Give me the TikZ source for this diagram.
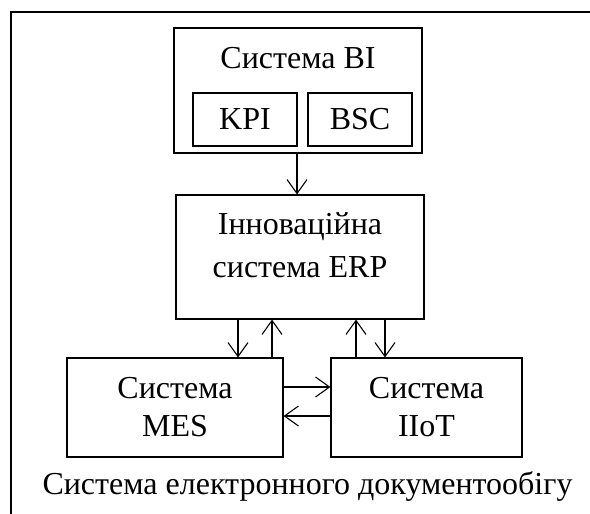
\documentclass[tikz,border=0pt]{standalone}
\usepackage{fontspec}
\setmainfont{Liberation Serif}
\usepackage{tikz}
\usetikzlibrary{arrows.meta,positioning,calc}

\tikzset{
  sysbox/.style={draw, line width=1.1pt, inner sep=0pt, align=center},
  arr/.style={line width=1.1pt, -{Straight Barb[length=14pt,width=20pt,line width=1.1pt]}}
}

\begin{document}
\begin{tikzpicture}[x=1pt,y=-1pt,every node/.style={font=\fontsize{32}{38}\selectfont}]
\useasboundingbox (0,0) rectangle (590,514);

% Outer frame (clipped on right and bottom)
\draw[line width=1.1pt] (11,514) -- (11,12) -- (590,12);

% BI block with its two parts
\node[sysbox, minimum width=248pt, minimum height=125pt] (bi) at (298,90.5) {};
\node[anchor=base] (bititle) at (298,68) {Система BI};
\node[sysbox, minimum width=104pt, minimum height=53pt] (kpi) at (245,119.5) {KPI};
\node[sysbox, minimum width=104pt, minimum height=53pt] (bsc) at (360,119.5) {BSC};

% ERP block
\node[sysbox, minimum width=248pt, minimum height=124pt, text depth=23pt,
      font=\fontsize{32}{43}\selectfont] (erp) at (300,257) {Інноваційна\\система ERP};

% Lower systems
\node[sysbox, minimum width=216pt, minimum height=99pt] (mes) at (175,407.5) {Система\\MES};
\node[sysbox, minimum width=191pt, minimum height=99pt] (iiot) at (426.5,407.5) {Система\\IIoT};

\node[anchor=base] (edoc) at (307.5,494) {Система електронного документообігу};

% Connectors
\draw[arr] ([xshift=-1pt]bi.south) -- ([xshift=-1pt]bi.south |- erp.north);
\draw[arr] ([xshift=-62pt]erp.south) -- ([xshift=-62pt]erp.south |- mes.north);
\draw[arr] ([xshift=-28pt]erp.south |- mes.north) -- ([xshift=-28pt]erp.south);
\draw[arr] ([xshift=56pt]erp.south |- iiot.north) -- ([xshift=56pt]erp.south);
\draw[arr] ([xshift=85pt]erp.south) -- ([xshift=85pt]erp.south |- iiot.north);
\draw[arr] ([yshift=20.5pt]mes.east) -- ([yshift=20.5pt]mes.east -| iiot.west);
\draw[arr] ([yshift=-8.5pt]mes.east -| iiot.west) -- ([yshift=-8.5pt]mes.east);
\end{tikzpicture}
\end{document}
